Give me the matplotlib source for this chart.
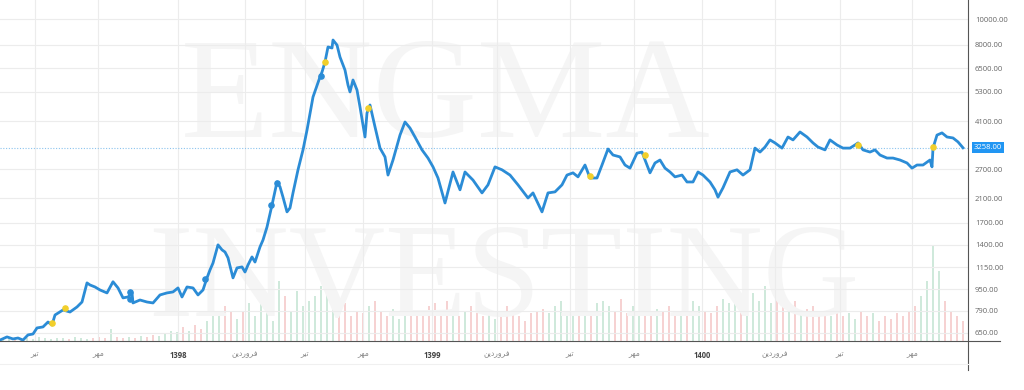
import matplotlib.pyplot as plt
from matplotlib.lines import Line2D
import numpy as np

plt.rcParams['font.family'] = ['Open Sans', 'DejaVu Sans']

# persian month names, written in presentation forms (visual order) so they render joined
TIR = '\ufeae\ufef4\ufe97'
MEHR = '\ufeae\ufeec\ufee3'
FARV = '\ufee6\ufef3\ufea9\ufead\ufeed\ufeae\ufed3'

# session index -> closing price
session = [0, 7, 13, 18, 23, 28, 33, 37, 43, 48, 52, 55, 63, 70, 77, 82, 87, 90, 95, 100,
           107, 113, 118, 123, 128, 132, 133, 140, 147, 153, 160, 167, 173, 178, 182, 187, 193, 198, 203, 207,
           210, 213, 218, 222, 225, 228, 233, 237, 242, 245, 248, 252, 255, 260, 263, 267, 272, 277, 280, 283,
           287, 290, 293, 298, 303, 307, 313, 320, 322, 325, 328, 332, 333, 337, 340, 345, 348, 350, 353, 357,
           360, 365, 367, 370, 375, 380, 385, 388, 393, 400, 405, 410, 415, 422, 428, 433, 438, 445, 453, 460,
           465, 473, 482, 488, 495, 502, 510, 518, 528, 533, 542, 548, 555, 562, 567, 573, 578, 585, 590, 597,
           602, 608, 613, 620, 625, 630, 637, 642, 647, 650, 655, 660, 665, 670, 675, 682, 687, 693, 698, 703,
           710, 715, 718, 723, 730, 737, 743, 750, 755, 760, 765, 770, 775, 782, 788, 793, 800, 807, 813, 818,
           825, 830, 837, 843, 850, 855, 858, 863, 870, 875, 880, 887, 893, 900, 907, 912, 917, 923, 930, 932,
           933, 937, 942, 947, 953, 958, 963]
price = [611, 628, 617, 622, 611, 639, 644, 679, 685, 715, 697, 760, 794, 780, 815, 851, 1005, 987, 970, 945,
         921, 1015, 962, 882, 889, 921, 844, 866, 851, 844, 905, 921, 929, 962, 889, 970, 962, 905, 945, 1050,
         1125, 1195, 1400, 1340, 1315, 1250, 1050, 1145, 1155, 1105, 1175, 1260, 1205, 1375, 1460, 1635, 1980, 2420, 2320, 2120,
         1865, 1930, 2200, 2690, 3200, 3800, 5070, 6040, 6300, 6880, 7840, 7770, 8330, 7970, 7180, 6410, 5630, 5300, 5880, 5390,
         4650, 3580, 4410, 4730, 3910, 3250, 3010, 2570, 2930, 3640, 4080, 3870, 3580, 3200, 2980, 2760, 2505, 2015, 2640, 2260,
         2640, 2460, 2200, 2360, 2760, 2690, 2570, 2360, 2105, 2200, 1865, 2200, 2220, 2360, 2570, 2620, 2530, 2805, 2505, 2505,
         2805, 3225, 3060, 3010, 2805, 2730, 3110, 3140, 2805, 2620, 2855, 2930, 2730, 2640, 2530, 2570, 2420, 2420, 2640, 2570,
         2420, 2260, 2120, 2300, 2640, 2690, 2570, 2690, 3250, 3140, 3280, 3490, 3400, 3250, 3580, 3490, 3740, 3580, 3400, 3280,
         3200, 3490, 3340, 3250, 3250, 3340, 3400, 3200, 3140, 3200, 3060, 2980, 2980, 2930, 2855, 2730, 2805, 2805, 2930, 2760,
         3250, 3640, 3710, 3580, 3550, 3430, 3258]
last_price = 3258

# event markers
yellow_x = [52, 65, 325, 368, 590, 645, 858, 933]
yellow_y = [709, 808, 6880, 4600, 2540, 3060, 3340, 3280]
blue_x = [130, 130, 205, 271, 277, 321]
blue_y = [925, 870, 1040, 1980, 2400, 6100]

# volume (million shares), one bar every 6 sessions starting at session 3
volume = [2, 3, 2, 2, 3, 2, 4, 3, 2, 3,
          3, 2, 4, 3, 2, 3, 4, 3, 12, 4,
          3, 4, 3, 5, 4, 6, 5, 8, 10, 9,
          14, 10, 16, 12, 20, 28, 25, 35, 30, 22,
          30, 38, 25, 40, 35, 20, 60, 45, 30, 50,
          35, 40, 45, 55, 65, 42, 30, 38, 25, 30,
          28, 35, 40, 30, 25, 32, 22, 28, 30, 25,
          30, 35, 38, 28, 40, 32, 25, 30, 35, 28,
          25, 30, 22, 28, 35, 30, 25, 20, 28, 30,
          32, 28, 35, 40, 30, 25, 35, 28, 30, 38,
          40, 35, 30, 42, 28, 35, 30, 25, 28, 32,
          30, 35, 28, 25, 32, 40, 35, 30, 28, 35,
          42, 38, 50, 45, 35, 48, 40, 55, 38, 42,
          35, 30, 40, 28, 32, 35, 30, 28, 25, 30,
          25, 28, 22, 30, 25, 28, 20, 25, 22, 28,
          25, 30, 35, 45, 60, 95, 70, 40, 30, 25, 20]
vol_x = np.arange(len(volume)) * 6 + 3

tick_pos = [35, 98, 178, 245, 305, 363, 432, 497, 570, 634, 702, 775, 840, 912]
tick_lbl = [TIR, MEHR, '1398', FARV, TIR, MEHR, '1399', FARV, TIR, MEHR, '1400', FARV, TIR, MEHR]
price_ticks = [650, 790, 950, 1150, 1400, 1700, 2100, 2700, 4100, 5300, 6500, 8000, 10000]

line_col = '#2b8cd6'

fig = plt.figure(figsize=(10.24, 3.9), dpi=100)
ax = fig.add_axes([0, 49 / 390, 968 / 1024, 341 / 390])
axv = ax.twinx()
ax.set_zorder(axv.get_zorder() + 1)
ax.patch.set_visible(False)

# volume bars
vol_dir = np.interp(vol_x, session, price) >= np.interp(vol_x - 6, session, price)
vol_cols = ['#cfe9db' if up else '#f6d2d2' for up in vol_dir]
axv.bar(vol_x, volume, width=1.6, color=vol_cols, linewidth=0)
axv.set_ylim(0, 341)
axv.set_xlim(0, 968)
axv.axis('off')

# watermark
ax.text(0.46, 0.70, 'ENGMA', transform=ax.transAxes, family='Liberation Serif',
        fontsize=104, color='#f5f5f5', ha='center', va='center', zorder=0)
ax.text(0.52, 0.17, 'INVESTING', transform=ax.transAxes, family='Liberation Serif',
        fontsize=96, color='#f5f5f5', ha='center', va='center', zorder=0)

ax.plot(session, price, color=line_col, lw=2.0, zorder=4, solid_joinstyle='round')
ax.scatter(blue_x, blue_y, s=14, color=line_col, zorder=5)
ax.scatter(yellow_x, yellow_y, s=14, color='#f2cf2a', zorder=6)

ax.axhline(last_price, color='#8cc4ee', lw=0.8, ls=(0, (1, 1.5)), zorder=3)

ax.set_yscale('log')
ax.set_ylim(606, 11800)
ax.set_xlim(0, 968)
ax.set_yticks(price_ticks)
ax.set_yticklabels(['%.2f' % v for v in price_ticks])
ax.minorticks_off()
ax.yaxis.tick_right()
ax.tick_params(axis='y', length=0, pad=5, labelsize=5.5, labelcolor='#666666')
ax.set_xticks(tick_pos)
ax.set_xticklabels(tick_lbl)
ax.tick_params(axis='x', length=0, pad=7, labelsize=5.5, labelcolor='#8a8a8a')
for lbl in ax.get_xticklabels():
    if lbl.get_text().isdigit():
        lbl.set_color('#444444')
        lbl.set_fontweight('bold')
ax.grid(True, color='#ececec', lw=0.8, zorder=1)
for s in ax.spines.values():
    s.set_visible(False)

# last price tag
ax.text(1.006, last_price, '%.2f' % last_price, transform=ax.get_yaxis_transform(),
        fontsize=5.5, color='white', va='center', ha='left',
        bbox=dict(boxstyle='square,pad=0.25', fc='#2196f3', ec='none'), clip_on=False)

# frame lines of the chart area
fig.add_artist(Line2D([0, 1000 / 1024], [49 / 390, 49 / 390], color='#555555', lw=0.8))
fig.add_artist(Line2D([968 / 1024, 968 / 1024], [20 / 390, 1], color='#555555', lw=0.8))
fig.add_artist(Line2D([0, 968 / 1024], [26 / 390, 26 / 390], color='#f0f0f0', lw=0.8))

fig.savefig('out.png', dpi=100)
